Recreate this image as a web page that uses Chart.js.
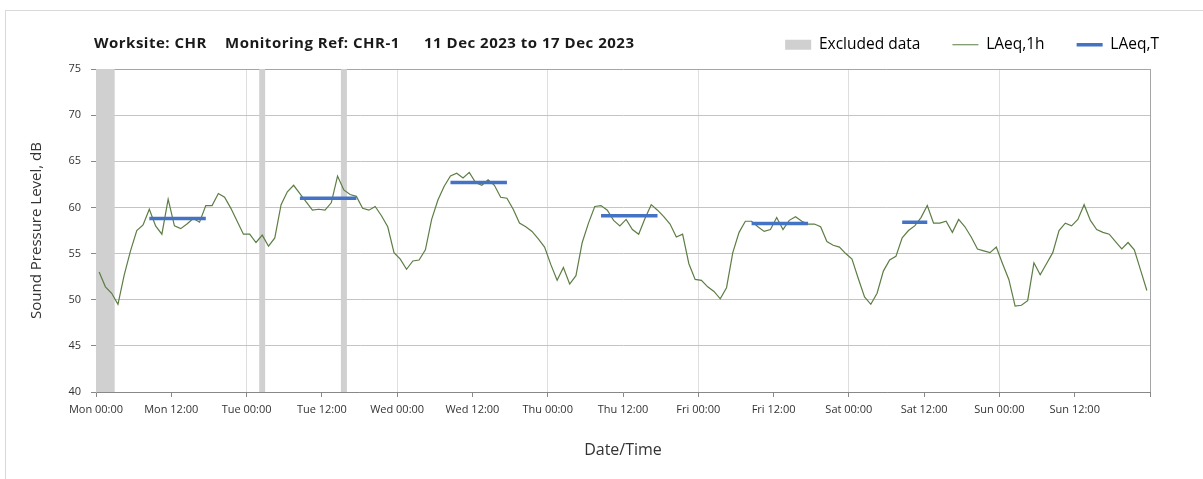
<!DOCTYPE html>
<html>
<head>
<meta charset="utf-8">
<script src="https://cdn.jsdelivr.net/npm/chart.js@4.4.0/dist/chart.umd.min.js"></script>
<style>
  body { margin: 0; background: #fff; }
  #wrap { position: relative; width: 1203px; height: 479px; overflow: hidden; }
  #frame { position: absolute; left: 5px; top: 10px; width: 1300px; height: 600px; border: 1px solid #d9d9d9; }
  canvas { position: absolute; left: 0; top: 0; }
  .ttl { position: absolute; top: 32px; font: bold 15px 'Open Sans', sans-serif; letter-spacing: 0.5px; color: #1a1a1a; white-space: nowrap; }
</style>
</head>
<body>
<div id="wrap">
  <div id="frame"></div>
  <canvas id="chr" width="1203" height="479"></canvas>
  <span class="ttl" style="left:94px">Worksite: CHR</span>
  <span class="ttl" style="left:225px">Monitoring Ref: CHR-1</span>
  <span class="ttl" style="left:424px">11 Dec 2023 to 17 Dec 2023</span>
</div>
<script>
// tick labels every 12 hours, Mon 00:00 .. Sun 12:00
const xTickLabels = ['Mon 00:00', 'Mon 12:00', 'Tue 00:00', 'Tue 12:00', 'Wed 00:00', 'Wed 12:00',
  'Thu 00:00', 'Thu 12:00', 'Fri 00:00', 'Fri 12:00', 'Sat 00:00', 'Sat 12:00', 'Sun 00:00', 'Sun 12:00'];

// hourly LAeq,1h, one value per hour from Mon 00:00
const laeq1h = [
  53.0, 51.4, 50.7, 49.5, 52.7, 55.3, 57.5, 58.1, 59.8, 58.0, 57.1, 60.9, 58.0, 57.7, 58.2, 58.8, 58.4, 60.2, 60.2, 61.5, 61.1, 59.9, 58.5, 57.1,
  57.1, 56.2, 57.0, 55.8, 56.7, 60.3, 61.7, 62.4, 61.5, 60.6, 59.7, 59.8, 59.7, 60.5, 63.4, 61.9, 61.4, 61.2, 59.9, 59.7, 60.1, 59.1, 57.9, 55.1,
  54.4, 53.3, 54.2, 54.3, 55.4, 58.7, 60.8, 62.3, 63.4, 63.7, 63.2, 63.8, 62.7, 62.4, 63.0, 62.4, 61.1, 61.0, 59.8, 58.3, 57.9, 57.4, 56.6, 55.7,
  53.8, 52.1, 53.5, 51.7, 52.6, 56.2, 58.3, 60.1, 60.2, 59.7, 58.6, 58.0, 58.7, 57.6, 57.1, 58.8, 60.3, 59.7, 59.0, 58.2, 56.8, 57.1, 53.9, 52.2,
  52.1, 51.4, 50.9, 50.1, 51.3, 55.1, 57.3, 58.5, 58.5, 57.9, 57.4, 57.6, 58.9, 57.6, 58.6, 59.0, 58.5, 58.2, 58.2, 57.9, 56.3, 55.9, 55.7, 55.0,
  54.4, 52.3, 50.3, 49.5, 50.7, 53.1, 54.3, 54.7, 56.7, 57.5, 58.0, 58.9, 60.2, 58.3, 58.3, 58.5, 57.3, 58.7, 57.9, 56.8, 55.5, 55.3, 55.1, 55.7,
  53.9, 52.2, 49.3, 49.4, 49.9, 54.0, 52.7, 53.9, 55.1, 57.5, 58.3, 58.0, 58.7, 60.3, 58.6, 57.6, 57.3, 57.1, 56.3, 55.5, 56.2, 55.4, 53.2, 51.0
];

// LAeq,T over each assessment period (first and last hour index)
const periodStart = [8, 32, 56, 80, 104, 128];
const periodEnd = [17, 41, 65, 89, 113, 132];
const laeqT = [58.8, 61.0, 62.7, 59.1, 58.25, 58.4];

// excluded data (hours from Mon 00:00)
const excludedStart = [0, 26, 39];
const excludedEnd = [3, 27, 40];

const GREEN = '#5c7d44';
const BLUE = '#4472c4';
const GREY = '#d0d0d0';

const hourlyPoints = laeq1h.map((v, i) => ({ x: i + 0.5, y: v }));

const periodPoints = [];
periodStart.forEach((s, i) => {
  for (let h = s; h <= periodEnd[i]; h++) periodPoints.push({ x: h + 0.5, y: laeqT[i] });
  periodPoints.push({ x: periodEnd[i] + 0.5, y: null });
});

const excludedPoints = [];
excludedStart.forEach((s, i) => {
  excludedPoints.push({ x: s, y: 75 }, { x: excludedEnd[i], y: 75 }, { x: excludedEnd[i], y: null });
});

Chart.defaults.font.family = "'Open Sans', sans-serif";
Chart.defaults.color = '#333';

new Chart(document.getElementById('chr'), {
  type: 'line',
  data: {
    datasets: [
      {
        label: 'Excluded data',
        data: excludedPoints,
        borderWidth: 0,
        borderColor: GREY,
        backgroundColor: GREY,
        fill: 'start',
        pointRadius: 0,
        order: 3,
        legendStyle: 'rect', legendWidth: 0
      },
      {
        label: 'LAeq,1h',
        data: hourlyPoints,
        borderColor: GREEN,
        backgroundColor: GREEN,
        borderWidth: 1.2,
        pointRadius: 0,
        order: 2,
        legendStyle: 'line', legendWidth: 1.2
      },
      {
        label: 'LAeq,T',
        data: periodPoints,
        borderColor: BLUE,
        backgroundColor: BLUE,
        borderWidth: 3.5,
        pointRadius: 0,
        order: 1,
        legendStyle: 'line', legendWidth: 3.5
      }
    ]
  },
  options: {
    responsive: false,
    animation: false,
    events: [],
    spanGaps: false,
    layout: { padding: { top: 5, right: 12, left: 0, bottom: 0 } },
    plugins: {
      title: { display: false },
      tooltip: { enabled: false },
      legend: {
        position: 'top',
        align: 'end',
        labels: {
          usePointStyle: true,
          pointStyleWidth: 26,
          boxHeight: 10,
          padding: 32,
          color: '#333',
          font: { size: 15.5 },
          generateLabels: chart => chart.data.datasets.map((d, i) => ({
            text: d.label,
            fillStyle: d.backgroundColor,
            strokeStyle: d.borderColor,
            lineWidth: d.legendWidth,
            pointStyle: d.legendStyle,
            datasetIndex: i,
            hidden: false
          }))
        }
      }
    },
    scales: {
      x: {
        type: 'linear',
        min: 0,
        max: 168,
        afterFit: s => { s.height = 87; },
        ticks: {
          stepSize: 12,
          autoSkip: false,
          maxRotation: 0,
          padding: 6,
          font: { size: 11 },
          callback: (v, i) => xTickLabels[i] ?? ''
        },
        grid: {
          color: c => c.tick.value === 168 ? '#a6a6a6' : (c.tick.value % 24 === 0 ? '#dedede' : 'rgba(0,0,0,0)'),
          tickColor: '#888',
          tickLength: 5
        },
        border: { color: '#888' },
        title: { display: true, text: 'Date/Time', font: { size: 16 }, padding: { top: 0, bottom: 19 } }
      },
      y: {
        min: 40,
        max: 75,
        afterFit: s => { s.width = 96; },
        ticks: { stepSize: 5, padding: 10, font: { size: 11 } },
        grid: {
          color: c => c.tick.value === 75 ? '#a6a6a6' : '#c4c4c4',
          tickColor: '#888',
          tickLength: 5
        },
        border: { color: '#a6a6a6' },
        title: { display: true, text: 'Sound Pressure Level, dB', font: { size: 15 }, padding: { top: 28, bottom: 0 } }
      },
      yR: {
        type: 'linear',
        position: 'right',
        grid: { display: false, drawTicks: false },
        border: { display: false },
        ticks: { display: false },
        afterFit: s => { s.width = 41; }
      },
      xT: {
        type: 'linear',
        position: 'top',
        grid: { display: false, drawTicks: false },
        border: { display: false },
        ticks: { display: false },
        afterFit: s => { s.height = 6.5; }
      }
    }
  }
});
</script>
</body>
</html>
